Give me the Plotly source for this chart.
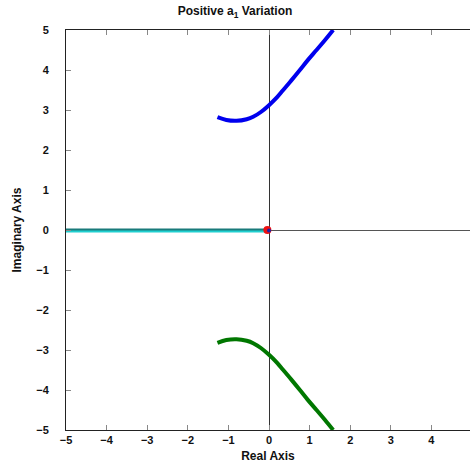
import plotly.graph_objects as go

# Upper branch (blue)
upper_re = [-1.27, -1.05, -0.80, -0.55, -0.39, -0.20, 0.0, 0.20, 0.35, 0.55, 0.76, 0.95, 1.17, 1.38, 1.58]
upper_im = [2.82, 2.75, 2.73, 2.77, 2.83, 2.95, 3.12, 3.32, 3.50, 3.74, 4.00, 4.24, 4.50, 4.75, 5.00]
# Lower branch (green), conjugate
lower_re = upper_re
lower_im = [-v for v in upper_im]
# Real-axis branch
real_re = [-5.0, 0.0]
real_im = [0.0, 0.0]
# Start point marker
start_re = [-0.04]
start_im = [0.0]

xticks = [-5, -4, -3, -2, -1, 0, 1, 2, 3, 4]
yticks = [-5, -4, -3, -2, -1, 0, 1, 2, 3, 4, 5]

fig = go.Figure()
fig.add_trace(go.Scatter(x=real_re, y=[v - 0.02 for v in real_im], mode="lines",
                         line=dict(color="#20d0d0", width=3.5), hoverinfo="skip"))
fig.add_trace(go.Scatter(x=real_re, y=[v + 0.01 for v in real_im], mode="lines",
                         line=dict(color="#1a7a7a", width=2), hoverinfo="skip"))
fig.add_trace(go.Scatter(x=upper_re, y=upper_im, mode="lines",
                         line=dict(color="#0000ee", width=4, shape="spline")))
fig.add_trace(go.Scatter(x=lower_re, y=lower_im, mode="lines",
                         line=dict(color="#007700", width=4, shape="spline")))
fig.add_trace(go.Scatter(x=start_re, y=start_im, mode="markers",
                         marker=dict(color="#ee1111", size=8, symbol="circle")))
fig.add_trace(go.Scatter(x=[0.0], y=[-0.01], mode="markers",
                         marker=dict(color="#2020aa", size=4, symbol="circle")))

FAM = "Liberation Sans, Arial, sans-serif"
axis_font = dict(family=FAM, size=11, color="#111", weight="bold")
fig.update_layout(
    width=470, height=466,
    margin=dict(l=66, r=0, t=30, b=36),
    paper_bgcolor="white", plot_bgcolor="white",
    showlegend=False,
    title=dict(text="<b>Positive a<sub>1</sub> Variation</b>", x=0.5, xanchor="center",
               y=0.985, yanchor="top",
               font=dict(family=FAM, size=12, color="#111")),
    xaxis=dict(range=[-5, 4.95], tickvals=xticks, ticks="inside", ticklen=5,
               tickcolor="#888", showgrid=False, showline=True, linecolor="#222",
               linewidth=1, mirror="ticks", zeroline=True, zerolinecolor="#333",
               zerolinewidth=1, tickfont=axis_font,
               title=dict(text="<b>Real Axis</b>", standoff=6,
                          font=dict(family=FAM, size=12, color="#111"))),
    yaxis=dict(range=[-5, 5], tickvals=yticks, ticks="inside", ticklen=5,
               tickcolor="#888", showgrid=False, showline=True, linecolor="#222",
               linewidth=1, zeroline=True, zerolinecolor="#555", zerolinewidth=1,
               tickfont=axis_font, ticklabelstandoff=14,
               title=dict(text="<b>Imaginary Axis</b>", standoff=12,
                          font=dict(family=FAM, size=12, color="#111"))),
)
fig.write_html("out.html")
